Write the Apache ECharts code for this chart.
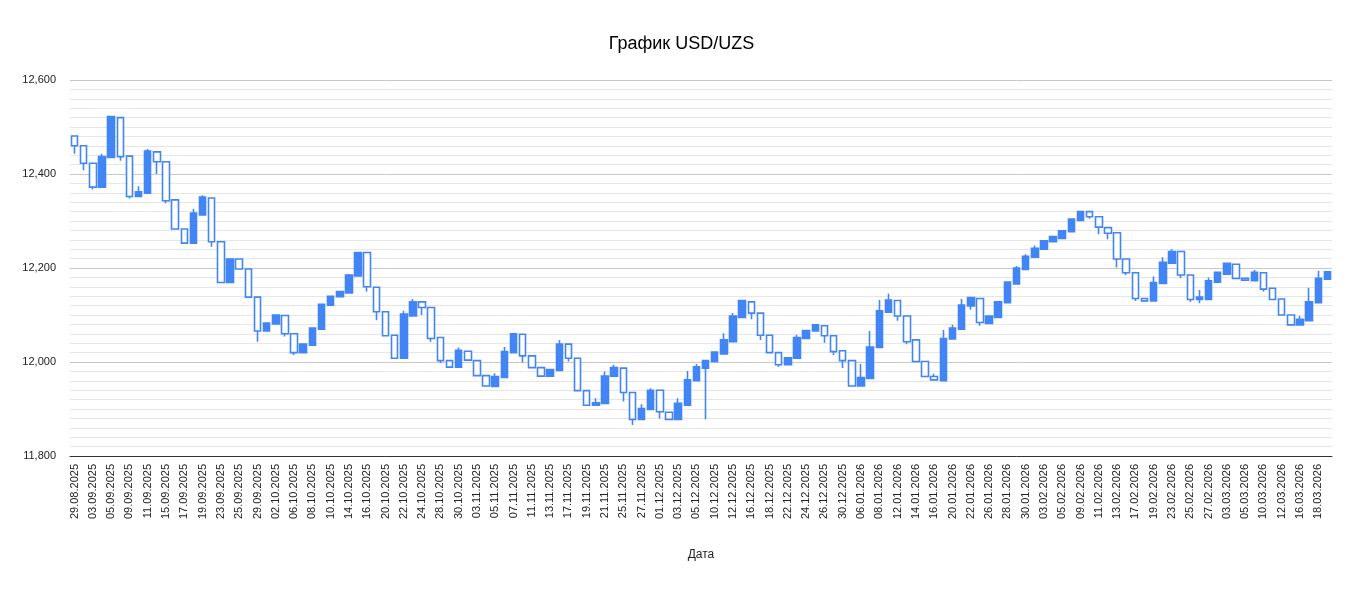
<!DOCTYPE html>
<html>
<head>
<meta charset="utf-8">
<script src="https://cdn.jsdelivr.net/npm/echarts@6/dist/echarts.min.js"></script>
<style>html,body{margin:0;padding:0;background:#fff}#chart{width:1363px;height:593px}</style>
</head>
<body>
<div id="chart"></div>
<script>
// даты торговых дней
var dates = [
  '29.08.2025','02.09.2025','03.09.2025','04.09.2025','05.09.2025','08.09.2025','09.09.2025','10.09.2025',
  '11.09.2025','12.09.2025','15.09.2025','16.09.2025','17.09.2025','18.09.2025','19.09.2025','22.09.2025',
  '23.09.2025','24.09.2025','25.09.2025','26.09.2025','29.09.2025','30.09.2025','02.10.2025','03.10.2025',
  '06.10.2025','07.10.2025','08.10.2025','09.10.2025','10.10.2025','13.10.2025','14.10.2025','15.10.2025',
  '16.10.2025','17.10.2025','20.10.2025','21.10.2025','22.10.2025','23.10.2025','24.10.2025','27.10.2025',
  '28.10.2025','29.10.2025','30.10.2025','31.10.2025','03.11.2025','04.11.2025','05.11.2025','06.11.2025',
  '07.11.2025','10.11.2025','11.11.2025','12.11.2025','13.11.2025','14.11.2025','17.11.2025','18.11.2025',
  '19.11.2025','20.11.2025','21.11.2025','24.11.2025','25.11.2025','26.11.2025','27.11.2025','28.11.2025',
  '01.12.2025','02.12.2025','03.12.2025','04.12.2025','05.12.2025','09.12.2025','10.12.2025','11.12.2025',
  '12.12.2025','15.12.2025','16.12.2025','17.12.2025','18.12.2025','19.12.2025','22.12.2025','23.12.2025',
  '24.12.2025','25.12.2025','26.12.2025','29.12.2025','30.12.2025','05.01.2026','06.01.2026','07.01.2026',
  '08.01.2026','09.01.2026','12.01.2026','13.01.2026','14.01.2026','15.01.2026','16.01.2026','19.01.2026',
  '20.01.2026','21.01.2026','22.01.2026','23.01.2026','26.01.2026','27.01.2026','28.01.2026','29.01.2026',
  '30.01.2026','02.02.2026','03.02.2026','04.02.2026','05.02.2026','06.02.2026','09.02.2026','10.02.2026',
  '11.02.2026','12.02.2026','13.02.2026','16.02.2026','17.02.2026','18.02.2026','19.02.2026','20.02.2026',
  '23.02.2026','24.02.2026','25.02.2026','26.02.2026','27.02.2026','02.03.2026','03.03.2026','04.03.2026',
  '05.03.2026','06.03.2026','10.03.2026','11.03.2026','12.03.2026','13.03.2026','16.03.2026','17.03.2026',
  '18.03.2026','19.03.2026'
];

// [open, close, low, high]
var ohlc = [
  [12481,12460,12443,12481],[12460,12423,12408,12460],[12423,12372,12367,12423],[12372,12437,12372,12443],
  [12435,12522,12435,12522],[12520,12437,12428,12520],[12438,12352,12348,12438],[12352,12362,12352,12374],
  [12359,12449,12359,12453],[12447,12426,12400,12447],[12426,12343,12338,12426],[12345,12283,12283,12345],
  [12283,12253,12253,12283],[12253,12317,12253,12326],[12313,12351,12313,12355],[12349,12256,12245,12349],
  [12256,12169,12169,12256],[12169,12219,12169,12220],[12219,12198,12198,12219],[12198,12138,12138,12198],
  [12138,12066,12043,12138],[12066,12083,12066,12083],[12081,12100,12081,12100],[12099,12060,12054,12099],
  [12060,12020,12015,12060],[12020,12038,12020,12038],[12036,12072,12036,12072],[12070,12123,12070,12123],
  [12121,12140,12121,12140],[12139,12150,12139,12150],[12147,12185,12147,12187],[12183,12233,12183,12233],
  [12233,12160,12150,12233],[12159,12107,12089,12159],[12107,12056,12056,12107],[12057,12008,12008,12057],
  [12008,12102,12008,12109],[12098,12128,12098,12134],[12128,12116,12100,12128],[12116,12050,12043,12116],
  [12052,12003,11998,12052],[12003,11989,11989,12003],[11989,12025,11989,12031],[12023,12004,12004,12023],
  [12003,11971,11971,12003],[11971,11949,11949,11971],[11948,11969,11948,11976],[11967,12022,11967,12032],
  [12020,12060,12020,12062],[12059,12013,11999,12059],[12013,11988,11988,12013],[11988,11970,11970,11988],
  [11970,11984,11970,11984],[11982,12038,11982,12047],[12038,12008,12001,12038],[12008,11939,11939,12008],
  [11939,11908,11908,11939],[11908,11913,11908,11923],[11912,11970,11912,11980],[11970,11988,11970,11994],
  [11987,11935,11916,11987],[11935,11878,11866,11935],[11878,11901,11878,11910],[11899,11940,11899,11944],
  [11940,11894,11880,11940],[11893,11878,11878,11893],[11878,11912,11878,11923],[11908,11962,11908,11981],
  [11960,11990,11960,11996],[11987,12003,11878,12003],[12001,12021,12001,12021],[12017,12047,12017,12061],
  [12043,12098,12043,12104],[12095,12131,12095,12131],[12128,12104,12091,12128],[12104,12057,12047,12104],
  [12057,12020,12020,12057],[12020,11994,11990,12020],[11994,12009,11994,12009],[12008,12052,12008,12058],
  [12050,12067,12050,12067],[12066,12079,12066,12079],[12077,12056,12041,12077],[12056,12022,12015,12056],
  [12024,12003,11987,12024],[12003,11949,11949,12003],[11949,11967,11949,11996],[11965,12032,11965,12066],
  [12031,12109,12031,12132],[12106,12132,12106,12145],[12131,12098,12088,12131],[12098,12043,12038,12098],
  [12047,12001,12001,12047],[12001,11969,11969,12001],[11969,11962,11962,11975],[11960,12050,11960,12068],
  [12049,12072,12049,12079],[12070,12121,12070,12134],[12119,12137,12111,12137],[12135,12084,12077,12135],
  [12082,12098,12082,12098],[12095,12128,12095,12128],[12126,12170,12126,12170],[12166,12200,12166,12204],
  [12197,12225,12197,12229],[12223,12242,12223,12248],[12240,12258,12240,12258],[12256,12267,12256,12267],
  [12263,12279,12263,12279],[12277,12304,12277,12304],[12301,12320,12301,12320],[12320,12309,12305,12320],
  [12309,12287,12272,12309],[12286,12274,12261,12286],[12275,12219,12201,12275],[12219,12190,12185,12219],
  [12190,12135,12130,12190],[12135,12130,12130,12135],[12130,12169,12130,12182],[12167,12212,12167,12223],
  [12210,12235,12210,12240],[12235,12185,12178,12235],[12185,12133,12128,12185],[12133,12138,12125,12153],
  [12133,12173,12133,12180],[12170,12191,12170,12191],[12187,12210,12187,12210],[12208,12178,12178,12208],
  [12178,12174,12174,12178],[12173,12191,12173,12196],[12190,12155,12150,12190],[12157,12133,12133,12157],
  [12134,12100,12100,12134],[12100,12079,12079,12100],[12079,12091,12079,12098],[12088,12128,12088,12158],
  [12126,12178,12126,12194],[12176,12192,12176,12192]
];

var yMin = 11800, yMax = 12600, yStep = 200;

var chart = echarts.init(document.getElementById('chart'));
chart.setOption({
  animation: false,
  textStyle: { fontFamily: 'Liberation Sans, Arial, sans-serif' },
  title: {
    text: 'График USD/UZS',
    left: 'center',
    top: 30,
    textStyle: { fontSize: 18, fontWeight: 'normal', color: '#000' }
  },
  grid: { left: 70, right: 31, top: 80, bottom: 137 },
  xAxis: {
    type: 'category',
    data: dates,
    name: 'Дата',
    nameLocation: 'middle',
    nameGap: 93,
    nameTextStyle: { fontSize: 12, color: '#222' },
    axisLine: { lineStyle: { color: '#333' } },
    axisTick: { show: false },
    axisLabel: { rotate: 90, interval: 1, fontSize: 11, color: '#222', margin: 8 },
    splitLine: { show: false }
  },
  yAxis: {
    type: 'value',
    min: yMin,
    max: yMax,
    interval: yStep,
    axisLine: { show: false },
    axisTick: { show: false },
    axisLabel: { fontSize: 11, color: '#222', margin: 14 },
    splitLine: { lineStyle: { color: '#c8c8c8' } },
    minorTick: { show: false, splitNumber: 10 },
    minorSplitLine: { show: true, lineStyle: { color: '#e6e6e6' } }
  },
  series: [{
    type: 'candlestick',
    data: ohlc,
    barWidth: 7,
    itemStyle: {
      color: '#4285f4',
      color0: '#ffffff',
      borderColor: '#4285f4',
      borderColor0: '#4285f4',
      borderWidth: 1.6
    }
  }]
});
</script>
</body>
</html>
